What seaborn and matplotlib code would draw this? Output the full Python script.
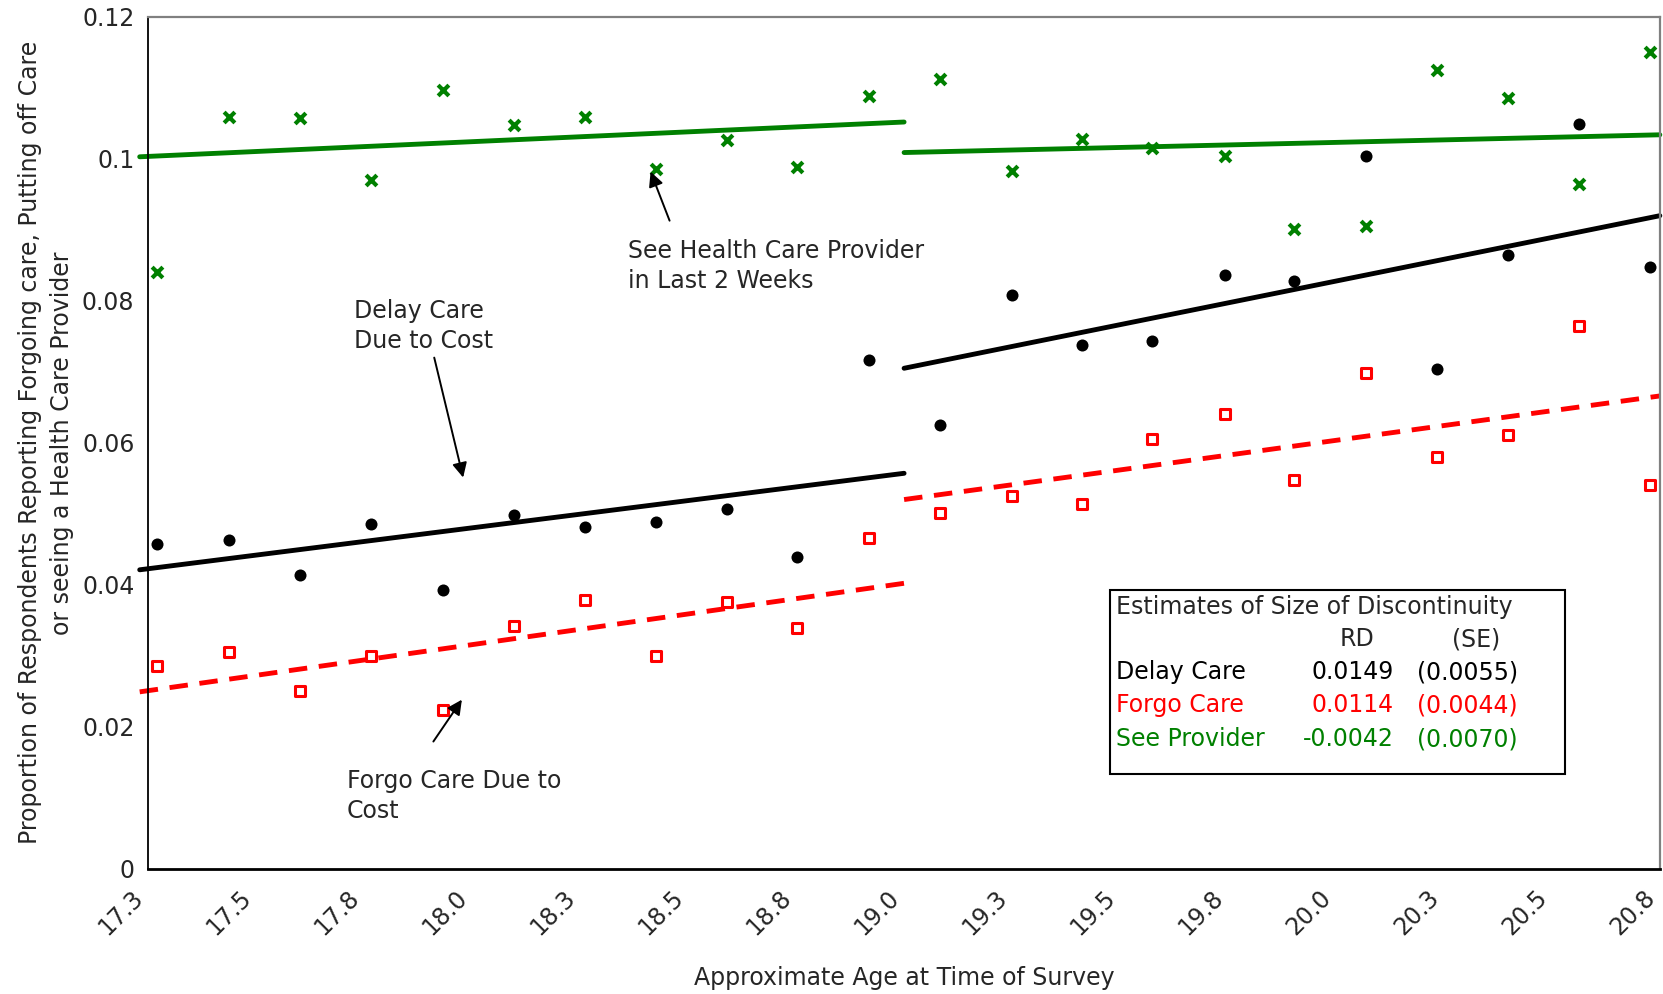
import matplotlib
matplotlib.use("Agg")
import matplotlib.pyplot as plt
import seaborn as sns
import pandas as pd
from matplotlib.patches import Rectangle

# ---------------- data ----------------
age = [17.270, 17.437, 17.601, 17.765, 17.932, 18.096, 18.260, 18.425, 18.589, 18.753, 18.918,
       19.082, 19.249, 19.411, 19.575, 19.742, 19.904, 20.070, 20.234, 20.399, 20.563, 20.727]

delay_care = [0.0457, 0.0463, 0.0414, 0.0486, 0.0393, 0.0498, 0.0481, 0.0489, 0.0507, 0.0439, 0.0716,
              0.0625, 0.0808, 0.0738, 0.0743, 0.0837, 0.0828, 0.1004, 0.0704, 0.0864, 0.1049, 0.0847]

forgo_care = [0.0285, 0.0305, 0.0250, 0.0300, 0.0223, 0.0342, 0.0378, 0.0300, 0.0375, 0.0339, 0.0466,
              0.0501, 0.0525, 0.0514, 0.0605, 0.0640, 0.0548, 0.0699, 0.0580, 0.0611, 0.0765, 0.0541]

see_provider = [0.0841, 0.1059, 0.1058, 0.0970, 0.1097, 0.1048, 0.1059, 0.0986, 0.1027, 0.0989, 0.1089,
                0.1113, 0.0983, 0.1028, 0.1016, 0.1004, 0.0901, 0.0906, 0.1125, 0.1086, 0.0965, 0.1151]

fit_age_left = [17.23, 19.0]
fit_age_right = [19.0, 20.75]
delay_fit_left = [0.0421, 0.0557]
delay_fit_right = [0.0705, 0.0920]
forgo_fit_left = [0.0249, 0.0402]
forgo_fit_right = [0.0520, 0.0666]
see_fit_left = [0.1003, 0.1052]
see_fit_right = [0.1009, 0.1034]

xtick_values = [17.25, 17.5, 17.75, 18.0, 18.25, 18.5, 18.75, 19.0, 19.25, 19.5, 19.75, 20.0, 20.25, 20.5, 20.75]
xtick_labels = ["17.3", "17.5", "17.8", "18.0", "18.3", "18.5", "18.8", "19.0", "19.3", "19.5", "19.8",
                "20.0", "20.3", "20.5", "20.8"]
ytick_values = [0, 0.02, 0.04, 0.06, 0.08, 0.10, 0.12]
ytick_labels = ["0", "0.02", "0.04", "0.06", "0.08", "0.1", "0.12"]

rd_rows = ["Delay Care", "Forgo Care", "See Provider"]
rd_values = ["0.0149", "0.0114", "-0.0042"]
se_values = ["(0.0055)", "(0.0044)", "(0.0070)"]

# ---------------- styling ----------------
sns.set_style("white")
plt.rcParams["font.family"] = ["DejaVu Sans"]
FS = 17

BLACK = "#000000"
RED = "#FF0000"
GREEN = "#008000"

fig = plt.figure(figsize=(16.63, 9.94), dpi=100)
ax = fig.add_axes([0.0892, 0.1262, 0.9089, 0.8567])

pts = pd.DataFrame({"age": age, "delay": delay_care, "forgo": forgo_care, "see": see_provider})

def fit_df(xs, ys):
    return pd.DataFrame({"age": xs, "val": ys})

LW = 3.5
# fitted lines
for xs, ys in [(fit_age_left, see_fit_left), (fit_age_right, see_fit_right)]:
    sns.lineplot(data=fit_df(xs, ys), x="age", y="val", ax=ax, color=GREEN, lw=LW,
                 solid_capstyle="round", clip_on=False, zorder=2)
for xs, ys in [(fit_age_left, delay_fit_left), (fit_age_right, delay_fit_right)]:
    sns.lineplot(data=fit_df(xs, ys), x="age", y="val", ax=ax, color=BLACK, lw=LW,
                 solid_capstyle="round", clip_on=False, zorder=2)
for xs, ys in [(fit_age_left, forgo_fit_left), (fit_age_right, forgo_fit_right)]:
    sns.lineplot(data=fit_df(xs, ys), x="age", y="val", ax=ax, color=RED, lw=LW,
                 dashes=False, linestyle=(0, (3.8, 2.4)), clip_on=False, zorder=2)

# scatter points
sns.scatterplot(data=pts, x="age", y="see", ax=ax, marker="x", s=60, color=GREEN,
                linewidth=3.0, zorder=3)
sns.scatterplot(data=pts, x="age", y="delay", ax=ax, marker="o", s=75, color=BLACK,
                edgecolor=BLACK, linewidth=0, zorder=3)
sns.scatterplot(data=pts, x="age", y="forgo", ax=ax, marker="s", s=44, color="white",
                edgecolor=RED, linewidth=2.2, zorder=3)

ax.set_xlim(17.25, 20.75)
ax.set_ylim(0, 0.12)
ax.set_xticks(xtick_values)
ax.set_xticklabels(xtick_labels, rotation=45, ha="right", va="top", fontsize=FS)
ax.set_yticks(ytick_values)
ax.set_yticklabels(ytick_labels, fontsize=FS)
ax.tick_params(axis="both", direction="out", length=6, width=1.2, color=BLACK, pad=4)
ax.tick_params(axis="x", pad=6)

for side in ["top", "right"]:
    ax.spines[side].set_color("#808080")
    ax.spines[side].set_linewidth(1.6)
ax.spines["left"].set_color(BLACK)
ax.spines["left"].set_linewidth(1.3)
ax.spines["bottom"].set_color(BLACK)
ax.spines["bottom"].set_linewidth(2.0)

ax.set_xlabel("Approximate Age at Time of Survey", fontsize=FS, labelpad=19)
ax.set_ylabel("Proportion of Respondents Reporting Forgoing care, Putting off Care\n"
              "or seeing a Health Care Provider", fontsize=FS, labelpad=6, linespacing=1.4)

arrow = dict(arrowstyle="-|>", color=BLACK, lw=1.4, mutation_scale=22, shrinkA=0, shrinkB=0)
ax.annotate("", xy=(17.979, 0.0551), xytext=(17.912, 0.0720), arrowprops=arrow)
ax.text(17.726, 0.0802, "Delay Care\nDue to Cost", fontsize=FS, ha="left", va="top", linespacing=1.3)

ax.annotate("", xy=(18.413, 0.0982), xytext=(18.457, 0.0913), arrowprops=arrow)
ax.text(18.361, 0.0887, "See Health Care Provider\nin Last 2 Weeks", fontsize=FS, ha="left", va="top",
        linespacing=1.3)

ax.annotate("", xy=(17.976, 0.0238), xytext=(17.910, 0.0179), arrowprops=arrow)
ax.text(17.709, 0.0140, "Forgo Care Due to\nCost", fontsize=FS, ha="left", va="top", linespacing=1.3)

# discontinuity estimates box
ax.add_patch(Rectangle((0.636, 0.1108), 0.301, 0.2167, transform=ax.transAxes, fill=True,
                       facecolor="white", edgecolor=BLACK, lw=1.5, zorder=5))
ax.text(0.640, 0.3076, "Estimates of Size of Discontinuity", transform=ax.transAxes, fontsize=FS,
        ha="left", va="center", zorder=6)
ax.text(0.7994, 0.269, "RD", transform=ax.transAxes, fontsize=FS, ha="center", va="center", zorder=6)
ax.text(0.8786, 0.269, "(SE)", transform=ax.transAxes, fontsize=FS, ha="center", va="center", zorder=6)
row_colors = [BLACK, RED, GREEN]
row_y = [0.2304, 0.1918, 0.1519]
for name, rd, se, c, y in zip(rd_rows, rd_values, se_values, row_colors, row_y):
    ax.text(0.640, y, name, transform=ax.transAxes, fontsize=FS, ha="left", va="center", color=c, zorder=6)
    ax.text(0.824, y, rd, transform=ax.transAxes, fontsize=FS, ha="right", va="center", color=c, zorder=6)
    ax.text(0.906, y, se, transform=ax.transAxes, fontsize=FS, ha="right", va="center", color=c, zorder=6)

fig.savefig("out.png", dpi=100)
